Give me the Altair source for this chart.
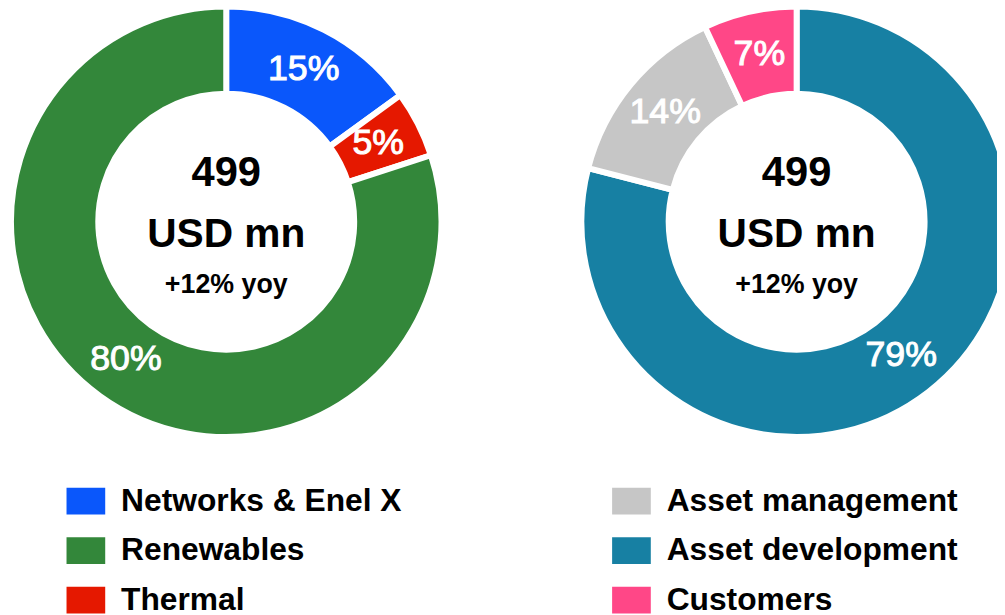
import math
import altair as alt
import pandas as pd

# ---- data ----
panels = ["Left", "Left", "Left", "Right", "Right", "Right"]
categories = ["Networks & Enel X", "Thermal", "Renewables",
              "Asset development", "Asset management", "Customers"]
shares = [15, 5, 80, 79, 14, 7]
labels = ["15%", "5%", "80%", "79%", "14%", "7%"]

legend_order = ["Networks & Enel X", "Renewables", "Thermal",
                "Asset management", "Asset development", "Customers"]
legend_colors = ["#0a57fb", "#33873a", "#e51800", "#c6c6c6", "#1780a3", "#ff4787"]

center_panels = ["Left", "Right"]
center_value = ["499", "499"]
center_unit = ["USD mn", "USD mn"]
center_growth = ["+12% yoy", "+12% yoy"]

FONT = "Liberation Sans"

df = pd.DataFrame({"panel": panels, "category": categories,
                   "share": shares, "label": labels})
cdf = pd.DataFrame({"panel": center_panels, "value": center_value,
                    "unit": center_unit, "growth": center_growth})

xscale = alt.Scale(type="point", domain=["Left", "Right"], range=[220, 795], padding=0)
x_enc = alt.X("panel:N", scale=xscale, axis=None)
tscale = alt.Scale(domain=[0, 100], range=[0, 2 * math.pi])
cscale = alt.Scale(domain=legend_order, range=legend_colors)

base = alt.Chart(df).transform_window(
    end="sum(share)", groupby=["panel"], frame=[None, 0]
).transform_calculate(
    start="datum.end - datum.share",
    mid="(datum.end - datum.share + datum.end) / 2"
)

arcs = base.mark_arc(outerRadius=217, innerRadius=129, stroke="white",
                     strokeWidth=6).encode(
    x=x_enc,
    y=alt.value(213),
    theta=alt.Theta("start:Q", scale=tscale),
    theta2="end:Q",
    color=alt.Color("category:N", scale=cscale, legend=alt.Legend(
        orient="none", legendX=59, legendY=475, columns=2,
        columnPadding=212, rowPadding=14, title=None,
        symbolType="M-1,-0.69L1,-0.69L1,0.69L-1,0.69Z",
        symbolSize=1521, symbolStrokeWidth=0, symbolOpacity=1,
        labelFont=FONT, labelFontSize=32, labelFontWeight="bold",
        labelColor="black", labelOffset=16, labelLimit=500)),
)

pct = base.mark_text(radius=172, font=FONT, fontSize=36, color="white",
                     stroke="white", strokeWidth=1,
                     baseline="middle", align="center", dy=-1).encode(
    x=x_enc,
    y=alt.value(213),
    theta=alt.Theta("mid:Q", scale=tscale),
    text="label:N",
)

cbase = alt.Chart(cdf)
t1 = cbase.mark_text(font=FONT, fontSize=42, fontWeight="bold", color="black",
                     baseline="alphabetic", dy=-36).encode(
    x=x_enc, y=alt.value(213), text="value:N")
t2 = cbase.mark_text(font=FONT, fontSize=41, fontWeight="bold", color="black",
                     baseline="alphabetic", dy=25).encode(
    x=x_enc, y=alt.value(213), text="unit:N")
t3 = cbase.mark_text(font=FONT, fontSize=27, fontWeight="bold", color="black",
                     baseline="alphabetic", dy=72).encode(
    x=x_enc, y=alt.value(213), text="growth:N")

chart = alt.layer(arcs, pct, t1, t2, t3).properties(
    width=997, height=607,
    autosize=alt.AutoSizeParams(type="none"),
    padding=0,
    background="white",
).configure_view(stroke="transparent", strokeWidth=0)

chart.save("out.html", embed_options={"renderer": "svg", "actions": False})
